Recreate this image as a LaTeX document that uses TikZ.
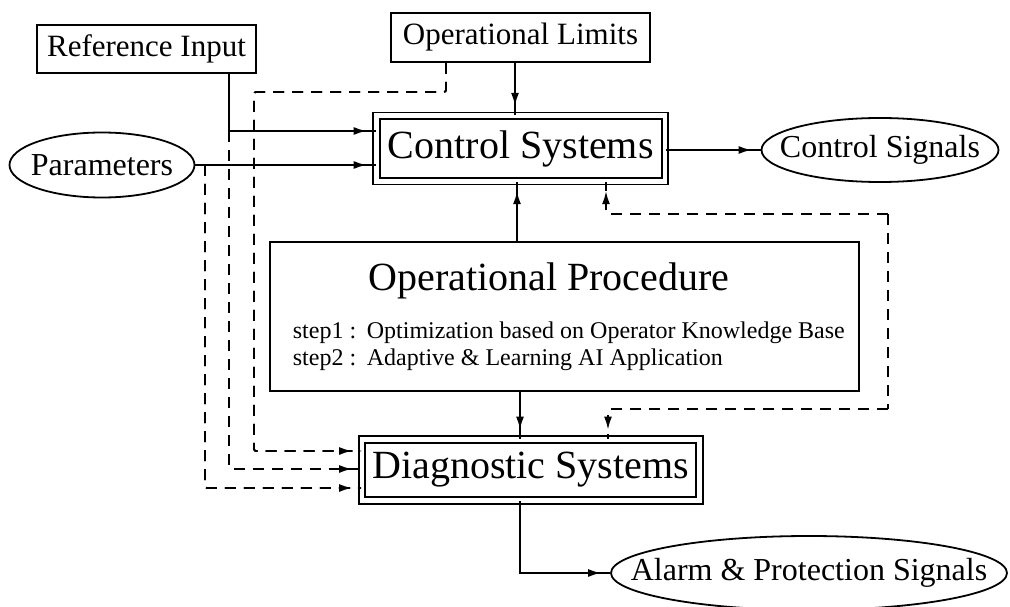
\documentclass[tikz,border=0pt]{standalone}
\usepackage{fontspec}
\setmainfont{Liberation Serif}
\usetikzlibrary{shapes.geometric,arrows.meta}

\begin{document}
\begin{tikzpicture}[x=1pt,y=-1pt,
  line width=1.8pt,
  box/.style={draw, rectangle, inner sep=0pt},
  dbox/.style={draw, rectangle, double, double distance=4.6pt, inner sep=0pt},
  ell/.style={draw, ellipse, inner sep=0pt},
  small/.style={font=\fontsize{31}{36}\selectfont},
  ellt/.style={font=\fontsize{32}{36}\selectfont},
  big/.style={font=\fontsize{40}{46}\selectfont},
  stepf/.style={font=\fontsize{24}{27}\selectfont, anchor=base west, inner sep=0pt},
  dsh/.style={dash pattern=on 11pt off 8pt, rounded corners=2pt},
  arr/.style={postaction={draw, -{Latex[length=13pt,width=8pt]}, shorten >=9pt}},
]
\useasboundingbox (0,0) rectangle (1010,607);

% nodes
\node[box, small, minimum width=219pt, minimum height=48pt] (ref) at (146.5,49) {Reference Input};
\node[box, small, minimum width=259pt, minimum height=49pt] (lim) at (520.5,37.5) {Operational Limits};
\node[ell, minimum width=185pt, minimum height=65pt] (par) at (102,165) {};
\node[ellt] (parT) at (par.center) {Parameters};
\node[dbox, big, minimum width=288.5pt, minimum height=65.5pt] (ctl) at (520.75,148.5) {Control Systems};
\node[ell, minimum width=237pt, minimum height=64pt] (sig) at (880,150) {};
\node[ellt] (sigT) at (sig.center) {Control Signals};
\node[box, minimum width=589pt, minimum height=149pt] (proc) at (564.5,316.5) {};
\node[big, anchor=base, inner sep=0pt] (procT) at (549,290) {Operational Procedure};
\node[stepf] (s1a) at (292,338) {step1 :};
\node[stepf] (s1b) at (366,338) {Optimization based on Operator Knowledge Base};
\node[stepf] (s2a) at (292,365) {step2 :};
\node[stepf] (s2b) at (366,365) {Adaptive \& Learning AI Application};
\node[dbox, big, minimum width=337.5pt, minimum height=61pt] (diag) at (530.75,470) {Diagnostic Systems};
\node[ell, minimum width=396pt, minimum height=74pt] (alarm) at (809,573) {};
\node[ellt] (alarmT) at (alarm.center) {Alarm \& Protection Signals};

% helper coordinates
\coordinate (j1) at (229,131);
\coordinate (j2) at (205,165);
\coordinate (a1) at (446,92);
\coordinate (a2) at (254,92);
\coordinate (a3) at (254,451);
\coordinate (r1) at (229,469);
\coordinate (p1) at (205,488);
\coordinate (lx) at (515,0);
\coordinate (ux) at (517,0);
\coordinate (dx) at (520,0);
\coordinate (b1) at (606,214);
\coordinate (b2) at (888,214);
\coordinate (b3) at (888,409);
\coordinate (b4) at (608,409);

% connectors
\draw[arr] (ref.south -| j1) -- (j1) -- (j1 -| ctl.west);
\draw[arr] (par.east) -- (par.east -| ctl.west);
\draw[arr] (lim.south -| lx) -- (ctl.north -| lx);
\draw[dsh,arr] (lim.south -| a1) -- (a1) -- (a2) -- (a3) -- (a3 -| diag.west);
\draw[dsh,arr] (j1) -- (r1) -- (r1 -| diag.west);
\draw[dsh,arr] (j2) -- (p1) -- (p1 -| diag.west);
\draw[arr] (ctl.east |- sig.west) -- (sig.west);
\draw[arr] (proc.north -| ux) -- (ctl.south -| ux);
\draw[dsh] (b2) -- (b3);
\draw[dsh,arr] (b2) -- (b1) -- (ctl.south -| b1);
\draw[dsh,arr] (b3) -- (b4) -- (diag.north -| b4);
\draw[arr] (proc.south -| dx) -- (diag.north -| dx);
\draw[arr] (diag.south -| dx) |- (alarm.west);
\end{tikzpicture}
\end{document}
